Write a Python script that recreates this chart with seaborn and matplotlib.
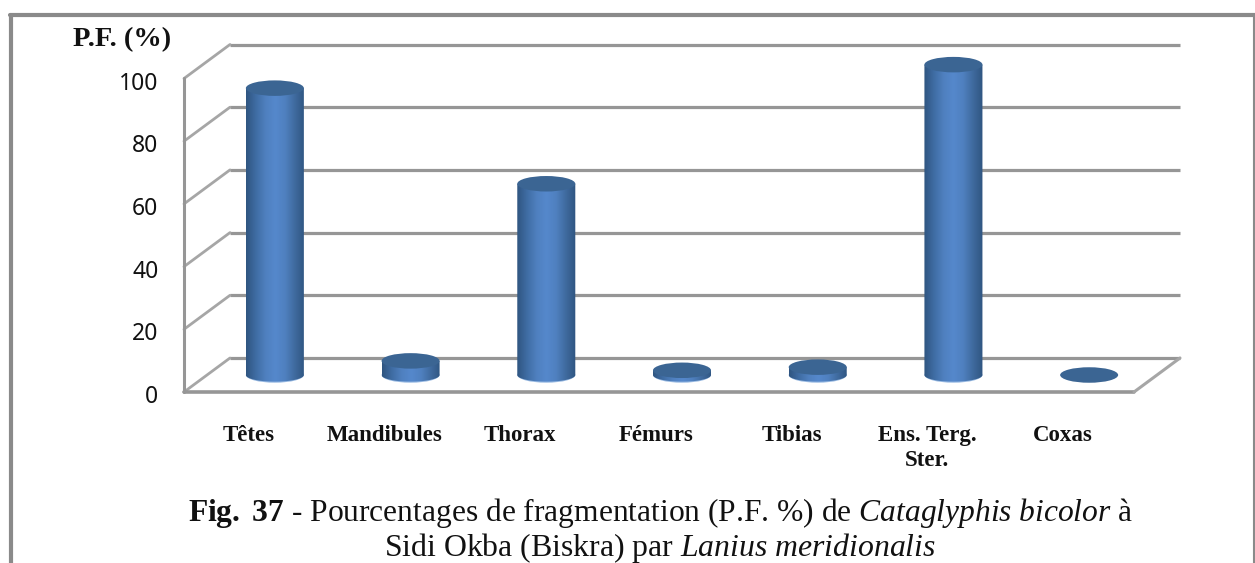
import numpy as np
import matplotlib
matplotlib.use("Agg")
import matplotlib.pyplot as plt
import seaborn as sns
from matplotlib.patches import Ellipse
from matplotlib.path import Path
from matplotlib.transforms import Affine2D
from matplotlib.colors import LinearSegmentedColormap
from matplotlib.lines import Line2D

categories = ["Têtes", "Mandibules", "Thorax", "Fémurs", "Tibias", "Ens. Terg.\nSter.", "Coxas"]
values = [91.5, 4.5, 61, 1.5, 2.5, 99, 0]
y_ticks = [0, 20, 40, 60, 80, 100]
y_label = "P.F. (%)"

W, H = 1255, 563
sns.set_theme(style="white")
plt.rcParams["mathtext.fontset"] = "custom"
plt.rcParams["mathtext.rm"] = "Liberation Serif"
plt.rcParams["mathtext.it"] = "Liberation Serif:italic"
plt.rcParams["mathtext.bf"] = "Liberation Serif:bold"

fig = plt.figure(figsize=(W / 100, H / 100), dpi=100, facecolor="white")

# axes = mid-depth plane of the 3D box
L, R, B, T = 207, 1157, 375, 61.5
ax = fig.add_axes([L / W, 1 - B / H, (R - L) / W, (B - T) / H])
ax.patch.set_alpha(0)
for s in ax.spines.values():
    s.set_visible(False)

BAR_W = 58 / 135.7
sns.barplot(x=categories, y=values, color="#4f7fbd", width=BAR_W, ax=ax, zorder=3, saturation=1)
ax.set_xlim(-0.5, 6.5)
ax.set_ylim(0, 100)
ax.set_xlabel("")
ax.set_ylabel("")

DX = 23 / 135.7
DY = 17 / 3.135


def proj(x, y, d):
    return x + d * DX, y + d * DY


GRID = "#969696"
x0, x1 = -0.5, 6.5
for t in y_ticks:
    xa, ya = proj(x0, t, 1)
    xb, yb = proj(x1, t, 1)
    ax.plot([xa, xb], [ya, yb], color=GRID, lw=2.3, zorder=1, clip_on=False, solid_capstyle="butt")
    xc, yc = proj(x0, t, -1)
    ax.plot([xc, xa], [yc, ya], color="#a6a6a6", lw=2.0, zorder=1, clip_on=False)
# left wall vertical, floor front edge and right floor edge
xa, ya = proj(x0, 0, -1)
xb, yb = proj(x0, 100, -1)
ax.plot([xa, xb], [ya, yb], color=GRID, lw=2.2, zorder=1, clip_on=False)
xc, yc = proj(x1, 0, -1)
ax.plot([xa, xc], [ya, yc], color=GRID, lw=2.6, zorder=1, clip_on=False)
xd, yd = proj(x1, 0, 1)
ax.plot([xc, xd], [yc, yd], color="#a6a6a6", lw=2.2, zorder=1, clip_on=False)

# cylinders: gradient clipped to the seaborn bar + rounded base
cmap = LinearSegmentedColormap.from_list(
    "cyl", ["#2f5580", "#3f6ca3", "#4f80bf", "#5588cc", "#4f80bf", "#3f6a9e", "#2f5580"])
grad = np.linspace(0, 1, 256).reshape(1, -1)
ELL_H = 15.5 / 3.135
bars = list(ax.patches)
for bar, v in zip(bars, values):
    x = bar.get_x()
    w = bar.get_width()
    cx = x + w / 2
    if v > 0:
        base = Ellipse((cx, 0), w, ELL_H, color="#9dbde4", zorder=2.9, clip_on=False, lw=0)
        ax.add_patch(base)
        th = np.linspace(np.pi, 2 * np.pi, 60)
        lower = np.c_[cx + w / 2 * np.cos(th), (ELL_H / 2 - 0.35) * np.sin(th)]
        pts = np.vstack([[[x, v]], lower, [[x + w, v]], [[x, v]]])
        clip = Path(pts, closed=True)
        im = ax.imshow(grad, extent=[x, x + w, -ELL_H, v], aspect="auto", cmap=cmap, zorder=3.1)
        im.set_clip_box(fig.bbox)
        im.set_clip_path(clip, transform=ax.transData)
    bar.set_visible(False)
    top = Ellipse((cx, v), w, ELL_H, facecolor="#3b6593", edgecolor="none", zorder=3.5, clip_on=False)
    ax.add_patch(top)
ax.set_xlim(-0.5, 6.5)
ax.set_ylim(0, 100)

# tick labels shifted to the front plane
ax.set_yticks(y_ticks)
ax.set_yticklabels([str(t) for t in y_ticks], fontsize=16.5, family="Noto Sans", color="#111111")
ax.tick_params(axis="y", length=0, pad=35)
for lab in ax.get_yticklabels():
    lab.set_transform(lab.get_transform() + Affine2D().translate(0, -19))
ax.tick_params(axis="x", length=0, pad=36)
ax.set_xticks(range(len(categories)))
ax.set_xticklabels(categories, fontsize=16.5, family="Liberation Serif", weight="bold",
                   color="#111111", linespacing=1.25)
for lab in ax.get_xticklabels():
    lab.set_transform(lab.get_transform() + Affine2D().translate(-26, 0))

fig.text(73 / W, 1 - 39.5 / H, y_label, family="Liberation Serif", weight="bold", fontsize=20.5,
         va="center", ha="left", color="#111111")

fig.text(661 / W, 1 - 513 / H,
         r"$\mathbf{Fig.\ 37}$ - Pourcentages de fragmentation (P.F. %) de "
         r"$\mathit{Cataglyphis\ bicolor}$ à",
         family="Liberation Serif", fontsize=22.7, ha="center", va="center", color="#111111")
fig.text(660 / W, 1 - 548 / H,
         r"Sidi Okba (Biskra) par $\mathit{Lanius\ meridionalis}$",
         family="Liberation Serif", fontsize=22.9, ha="center", va="center", color="#111111")

# outer frame, open at the bottom
frame = "#8a8a8a"
fig.add_artist(Line2D([11 / W, 11 / W], [0, 1 - 14.5 / H], color=frame, lw=3))
fig.add_artist(Line2D([9.5 / W, 1254.5 / W], [1 - 14.5 / H, 1 - 14.5 / H], color=frame, lw=3))
fig.add_artist(Line2D([1254 / W, 1254 / W], [0, 1 - 14.5 / H], color=frame, lw=1.5))

fig.savefig("out.png", dpi=100)
